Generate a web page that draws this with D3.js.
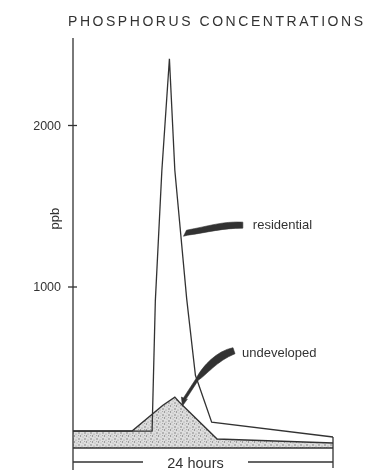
<!DOCTYPE html>
<html><head><meta charset="utf-8">
<script src="https://cdn.jsdelivr.net/npm/d3@7"></script>
<style>body{margin:0;background:#fff}svg{display:block}text{font-family:"Liberation Sans",Arial,sans-serif;fill:#333}</style>
</head><body><div id="chart"></div>
<script>
const title = "PHOSPHORUS CONCENTRATIONS";
const yTicks = [1000, 2000];
const yLabel = "ppb";
const xLabel = "24 hours";
const residentialHours = [0, 7.3, 7.6, 8.2, 8.9, 9.4, 10.5, 11.3, 12.8, 24];
const residentialPpb   = [105, 105, 910, 1715, 2410, 1720, 920, 450, 160, 68];
const undevelopedHours = [0, 5.45, 8.3, 9.4, 9.8, 13.3, 24];
const undevelopedPpb   = [105, 105, 265, 315, 285, 56, 31];
const seriesNames = ["residential", "undeveloped"];
// annotation anchors in data units: [labelHour, labelPpb, tipHour, tipPpb]
const annotations = [[16.6, 1380, 10.2, 1330], [15.6, 590, 10.1, 260]];

const W = 373, H = 472;
const svg = d3.select("#chart").append("svg").attr("width", W).attr("height", H);
const x = d3.scaleLinear().domain([0, 24]).range([73, 333]);
const y = d3.scaleLinear().domain([0, 2000]).range([448, 125]);

const defs = svg.append("defs");
const pat = defs.append("pattern").attr("id","stip").attr("width",6).attr("height",6).attr("patternUnits","userSpaceOnUse");
pat.append("rect").attr("width",6).attr("height",6).attr("fill","#dedede");
[[1,1,0.7,"#666"],[4,2,0.6,"#888"],[2.5,4,0.7,"#777"],[5,5,0.5,"#999"],[0.5,3.5,0.5,"#999"]].forEach(d=>
  pat.append("circle").attr("cx",d[0]).attr("cy",d[1]).attr("r",d[2]).attr("fill",d[3]));
defs.append("filter").attr("id","soft").append("feGaussianBlur").attr("stdDeviation",0.35);

const g = svg.append("g").attr("filter","url(#soft)");

// title
g.append("text").attr("x", 68).attr("y", 26).attr("font-size", 14)
  .attr("textLength", 295).attr("lengthAdjust","spacing").text(title);

// undeveloped shaded area
const und = undevelopedHours.map((h,i)=>[h, undevelopedPpb[i]]);
const res = residentialHours.map((h,i)=>[h, residentialPpb[i]]);
g.append("path").datum(und)
  .attr("d", d3.area().x(d=>x(d[0])).y0(y(0)).y1(d=>y(d[1])))
  .attr("fill","url(#stip)");
g.append("path").datum(und)
  .attr("d", d3.line().x(d=>x(d[0])).y(d=>y(d[1])))
  .attr("fill","none").attr("stroke","#333").attr("stroke-width",1.4);
g.append("path").datum(res)
  .attr("d", d3.line().x(d=>x(d[0])).y(d=>y(d[1])))
  .attr("fill","none").attr("stroke","#333").attr("stroke-width",1.3);

// x baseline
g.append("line").attr("x1", x(0)).attr("x2", x(24)).attr("y1", y(0)).attr("y2", y(0))
  .attr("stroke","#333").attr("stroke-width",1.7);

// y axis
const yAxis = d3.axisLeft(y).tickValues(yTicks).tickSize(5).tickPadding(7).tickFormat(d3.format("d"));
const ya = g.append("g").attr("transform", `translate(${x(0)},0)`).call(yAxis);
ya.select(".domain").remove();
ya.selectAll(".tick line").attr("x2", 4).attr("x1",-5).attr("stroke","#333").attr("stroke-width",1.3);
ya.selectAll(".tick text").attr("font-size", 12.5).attr("fill","#444").attr("font-family","Liberation Sans, Arial, sans-serif");
g.append("line").attr("x1", x(0)).attr("x2", x(0)).attr("y1", 38).attr("y2", 470)
  .attr("stroke","#333").attr("stroke-width",1.3);
g.append("text").attr("transform", `translate(59,${y(1420)}) rotate(-90)`)
  .attr("text-anchor","middle").attr("font-size", 13).text(yLabel);

// 24 hours bracket
const bY = 462;
g.append("line").attr("x1", x(0)).attr("x2", 143).attr("y1", bY).attr("y2", bY).attr("stroke","#333").attr("stroke-width",1.4);
g.append("line").attr("x1", 248).attr("x2", x(24)).attr("y1", bY).attr("y2", bY).attr("stroke","#333").attr("stroke-width",1.4);
g.append("line").attr("x1", x(24)).attr("x2", x(24)).attr("y1", y(residentialPpb[residentialPpb.length-1])).attr("y2", 468).attr("stroke","#333").attr("stroke-width",1.3);
g.append("text").attr("x", (143+248)/2).attr("y", 468).attr("text-anchor","middle").attr("font-size", 14.5).text(xLabel);

// annotations
annotations.forEach((a, i) => {
  const lx = x(a[0]), ly = y(a[1]), tx = x(a[2]), ty = y(a[3]);
  g.append("text").attr("x", lx).attr("y", ly + 4).attr("font-size", 13).text(seriesNames[i]);
  let p;
  if (i === 0) {
    p = `M${lx-10},${ly-3} L${lx-10},${ly+3} C${lx-30},${ly+3} ${tx+25},${ty-1} ${tx+4},${ty+2}
         L${tx},${ty+3} L${tx+3},${ty-3} C${tx+25},${ty-7} ${lx-30},${ly-4} ${lx-10},${ly-3}Z`;
  } else {
    const mx = tx + 15, my = ty - 30;
    p = `M${lx-9},${ly-5} L${lx-7},${ly+1} C${lx-25},${ly+8} ${mx+8},${my} ${mx+1},${my+4}
         L${tx+3},${ty-6} L${tx+5},${ty-7} L${tx},${ty} L${tx-1},${ty-9} L${tx+1},${ty-8}
         L${mx-1},${my+2} C${mx+5},${my-10} ${lx-25},${ly-2} ${lx-9},${ly-5}Z`;
  }
  g.append("path").attr("d", p).attr("fill","#333").attr("stroke","#333").attr("stroke-width",0.6);
});
</script></body></html>
